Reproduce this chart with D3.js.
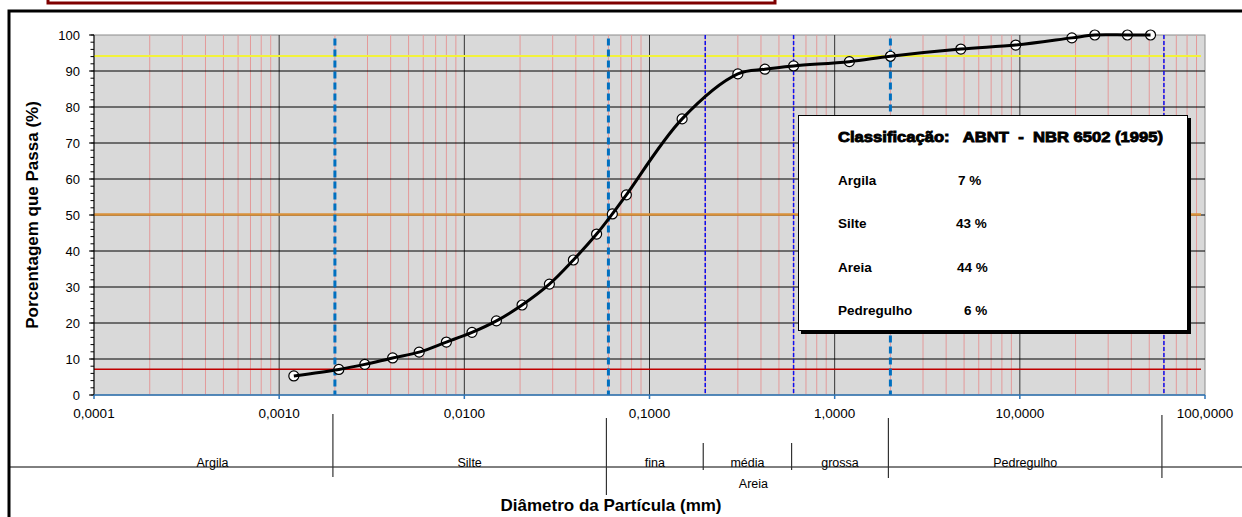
<!DOCTYPE html>
<meta charset="utf-8">
<style>
body { margin: 0; background: #fff; }
svg { font-family: "Liberation Sans", Arial, sans-serif; }
</style>
<body>
<script src="https://d3js.org/d3.v7.min.js"></script>
<script>

// particle size data (mm) and percentage passing
var diameters = [0.0012, 0.0021, 0.0029, 0.0041, 0.0057, 0.0080, 0.0110, 0.0149, 0.0205, 0.0288,
                 0.0388, 0.0518, 0.0630, 0.075, 0.15, 0.30, 0.42, 0.60, 1.2, 2.0, 4.8, 9.5, 19.1, 25.4, 38.1, 50.8];
var passing   = [5.3, 7.1, 8.5, 10.3, 11.9, 14.7, 17.4, 20.6, 25.0, 30.8,
                 37.5, 44.7, 50.3, 55.6, 76.7, 89.2, 90.5, 91.4, 92.6, 94.1, 96.1, 97.2, 99.2, 100, 100, 100];

var xTicks = [0.0001, 0.001, 0.01, 0.1, 1, 10, 100];
var xTickLabels = ["0,0001", "0,0010", "0,0100", "0,1000", "1,0000", "10,0000", "100,0000"];
var yTicks = [0, 10, 20, 30, 40, 50, 60, 70, 80, 90, 100];

// reference lines
var refLevels = [94, 50, 7];
var thickBounds = [0.002, 0.06, 2.0];
var thinBounds = [0.2, 0.6, 60];

// classification band below the axis
var bandBounds = [0.002, 0.06, 0.2, 0.6, 2.0, 60];
var bandNames = ["Argila", "Silte", "fina", "média", "grossa", "Pedregulho"];
var bandFrom  = [0.0001, 0.002, 0.06, 0.2, 0.6, 2.0];
var bandTo    = [0.002, 0.06, 0.2, 0.6, 2.0, 60];

// legend table
var legendNames = ["Argila", "Silte", "Areia", "Pedregulho"];
var legendValues = ["7 %", "43 %", "44 %", "6 %"];

var W = 1242, H = 517;
var svg = d3.select("body").append("svg")
    .attr("width", W)
    .attr("height", H);

var x = d3.scaleLog().domain([0.0001, 100]).range([94, 1205]);
var y = d3.scaleLinear().domain([0, 100]).range([395, 35]);

// outer frame and the clipped title box
svg.append("rect")
    .attr("x", 9).attr("y", 11).attr("width", 1300).attr("height", 600)
    .attr("fill", "#fff").attr("stroke", "#000").attr("stroke-width", 3);
svg.append("rect")
    .attr("x", 48).attr("y", -30).attr("width", 727).attr("height", 33)
    .attr("fill", "#fff").attr("stroke", "#7f0000").attr("stroke-width", 3);

// plot background
svg.append("rect")
    .attr("x", x(0.0001)).attr("y", y(100))
    .attr("width", x(100) - x(0.0001)).attr("height", y(0) - y(100))
    .attr("fill", "#d9d9d9").attr("stroke", "#8c8c8c").attr("stroke-width", 1);

// minor vertical grid
var minors = [];
for (var e = -4; e < 2; e++) {
  for (var m = 2; m <= 9; m++) minors.push(m * Math.pow(10, e));
}
svg.append("g").selectAll("line").data(minors).join("line")
    .attr("x1", d => x(d)).attr("x2", d => x(d))
    .attr("y1", y(100)).attr("y2", y(0))
    .attr("stroke", "#e39a9a").attr("stroke-width", 1);

// major vertical grid
svg.append("g").selectAll("line").data(xTicks.slice(1, -1)).join("line")
    .attr("x1", d => x(d)).attr("x2", d => x(d))
    .attr("y1", y(100)).attr("y2", y(0))
    .attr("stroke", "#333").attr("stroke-width", 1);

// horizontal grid
svg.append("g").selectAll("line").data(yTicks.slice(1, -1)).join("line")
    .attr("x1", x(0.0001)).attr("x2", x(100))
    .attr("y1", d => y(d)).attr("y2", d => y(d))
    .attr("stroke", "#000").attr("stroke-width", 1);

// reference horizontal lines
var refColors = ["#f2f23a", "#d9913a", "#c00000"];
var refWidths = [2, 2.5, 1.5];
svg.append("g").selectAll("line").data(refLevels).join("line")
    .attr("x1", x(0.0001)).attr("x2", x(100) - 4)
    .attr("y1", d => y(d) - 0.5).attr("y2", d => y(d) - 0.5)
    .attr("stroke", (d, i) => refColors[i]).attr("stroke-width", (d, i) => refWidths[i]);

// boundary dashed lines
svg.append("g").selectAll("line").data(thinBounds).join("line")
    .attr("x1", d => x(d)).attr("x2", d => x(d))
    .attr("y1", y(100)).attr("y2", y(0))
    .attr("stroke", "#1010ee").attr("stroke-width", 1.5)
    .attr("stroke-dasharray", "4,2");
svg.append("g").selectAll("line").data(thickBounds).join("line")
    .attr("x1", d => x(d)).attr("x2", d => x(d))
    .attr("y1", y(99)).attr("y2", y(0))
    .attr("stroke", "#0070c0").attr("stroke-width", 3)
    .attr("stroke-dasharray", "7,4");

// y axis
var yAxis = svg.append("g");
yAxis.append("line")
    .attr("x1", x(0.0001)).attr("x2", x(0.0001))
    .attr("y1", y(100)).attr("y2", y(0))
    .attr("stroke", "#000");
yAxis.selectAll(".minor").data(d3.range(0, 101, 2)).join("line")
    .attr("x1", x(0.0001) - 3.5).attr("x2", x(0.0001))
    .attr("y1", d => y(d)).attr("y2", d => y(d))
    .attr("stroke", "#000");
yAxis.selectAll(".major").data(yTicks).join("line")
    .attr("x1", x(0.0001) - 5).attr("x2", x(0.0001))
    .attr("y1", d => y(d)).attr("y2", d => y(d))
    .attr("stroke", "#000");
yAxis.selectAll("text").data(yTicks).join("text")
    .attr("x", 80).attr("y", d => y(d) + 4.5)
    .attr("text-anchor", "end")
    .style("font-size", "13px")
    .text(d => d);

// x axis
var xAxis = svg.append("g");
xAxis.append("line")
    .attr("x1", x(0.0001)).attr("x2", x(100))
    .attr("y1", y(0)).attr("y2", y(0))
    .attr("stroke", "#2e75b6").attr("stroke-width", 1.5);
xAxis.selectAll("line.t").data(xTicks).join("line")
    .attr("x1", d => x(d)).attr("x2", d => x(d))
    .attr("y1", y(0)).attr("y2", y(0) + 4)
    .attr("stroke", "#2e75b6").attr("stroke-width", 1.5);
xAxis.selectAll("text").data(xTicks).join("text")
    .attr("x", d => x(d)).attr("y", y(0) + 23)
    .attr("text-anchor", "middle")
    .style("font-size", "13.5px")
    .text((d, i) => xTickLabels[i]);

// data points and smoothed curve
var pts = diameters.map((d, i) => [d, passing[i]]);
svg.append("g").selectAll("circle").data(pts).join("circle")
    .attr("cx", d => x(d[0])).attr("cy", d => y(d[1]))
    .attr("r", 5)
    .attr("fill", "#fff").attr("stroke", "#000").attr("stroke-width", 1.2);

var curve = d3.line()
    .x(d => x(d[0])).y(d => y(d[1]))
    .curve(d3.curveCatmullRom.alpha(0.5));
svg.append("path")
    .datum(pts)
    .attr("d", curve)
    .attr("fill", "none").attr("stroke", "#000").attr("stroke-width", 3);

// classification band
svg.append("line")
    .attr("x1", 9).attr("x2", W)
    .attr("y1", 467).attr("y2", 467)
    .attr("stroke", "#000").attr("stroke-width", 1);
var sepTop = [414, 418, 443, 443, 418, 415];
var sepBottom = [477, 495, 470, 470, 478, 478];
svg.append("g").selectAll("line").data(bandBounds).join("line")
    .attr("x1", d => x(d) - 2).attr("x2", d => x(d) - 2)
    .attr("y1", (d, i) => sepTop[i]).attr("y2", (d, i) => sepBottom[i])
    .attr("stroke", "#333").attr("stroke-width", 1.2);
svg.append("g").selectAll("text").data(bandNames).join("text")
    .attr("x", (d, i) => (x(bandFrom[i]) + x(bandTo[i])) / 2 - 2)
    .attr("y", 467)
    .attr("text-anchor", "middle")
    .style("font-size", "12.5px")
    .text(d => d);
svg.append("text")
    .attr("x", (x(0.06) + x(2.0)) / 2 + 4).attr("y", 488)
    .attr("text-anchor", "middle")
    .style("font-size", "12.5px")
    .text("Areia");

// axis titles
svg.append("text")
    .attr("transform", "translate(38," + ((y(0) + y(100)) / 2) + ") rotate(-90)")
    .attr("text-anchor", "middle")
    .style("font-size", "17px").style("font-weight", "bold")
    .text("Porcentagem que Passa (%)");
svg.append("text")
    .attr("x", 611).attr("y", 511)
    .attr("text-anchor", "middle")
    .style("font-size", "17px").style("font-weight", "bold")
    .text("Diâmetro da Partícula (mm)");

// legend box
var lg = svg.append("g");
lg.append("rect")
    .attr("x", 801).attr("y", 118).attr("width", 390).attr("height", 216)
    .attr("fill", "#000");
lg.append("rect")
    .attr("x", 798.5).attr("y", 115.5).attr("width", 389).attr("height", 215)
    .attr("fill", "#fff").attr("stroke", "#000").attr("stroke-width", 1);
lg.append("text")
    .attr("x", 838).attr("y", 142)
    .attr("textLength", 325).attr("lengthAdjust", "spacingAndGlyphs")
    .style("font-size", "15px").style("font-weight", "bold")
    .style("white-space", "pre")
    .attr("stroke", "#000").attr("stroke-width", 0.9)
    .text("Classificação:   ABNT  -  NBR 6502 (1995)");
var rowY = [185, 228, 272, 315];
var valX = [958, 956, 957, 964];
lg.selectAll("text.n").data(legendNames).join("text")
    .attr("x", 838).attr("y", (d, i) => rowY[i])
    .style("font-size", "13.5px").style("font-weight", "bold")
    .text(d => d);
lg.selectAll("text.v").data(legendValues).join("text")
    .attr("x", (d, i) => valX[i]).attr("y", (d, i) => rowY[i])
    .style("font-size", "13.5px").style("font-weight", "bold")
    .style("white-space", "pre")
    .text(d => d);

</script>
</body>
